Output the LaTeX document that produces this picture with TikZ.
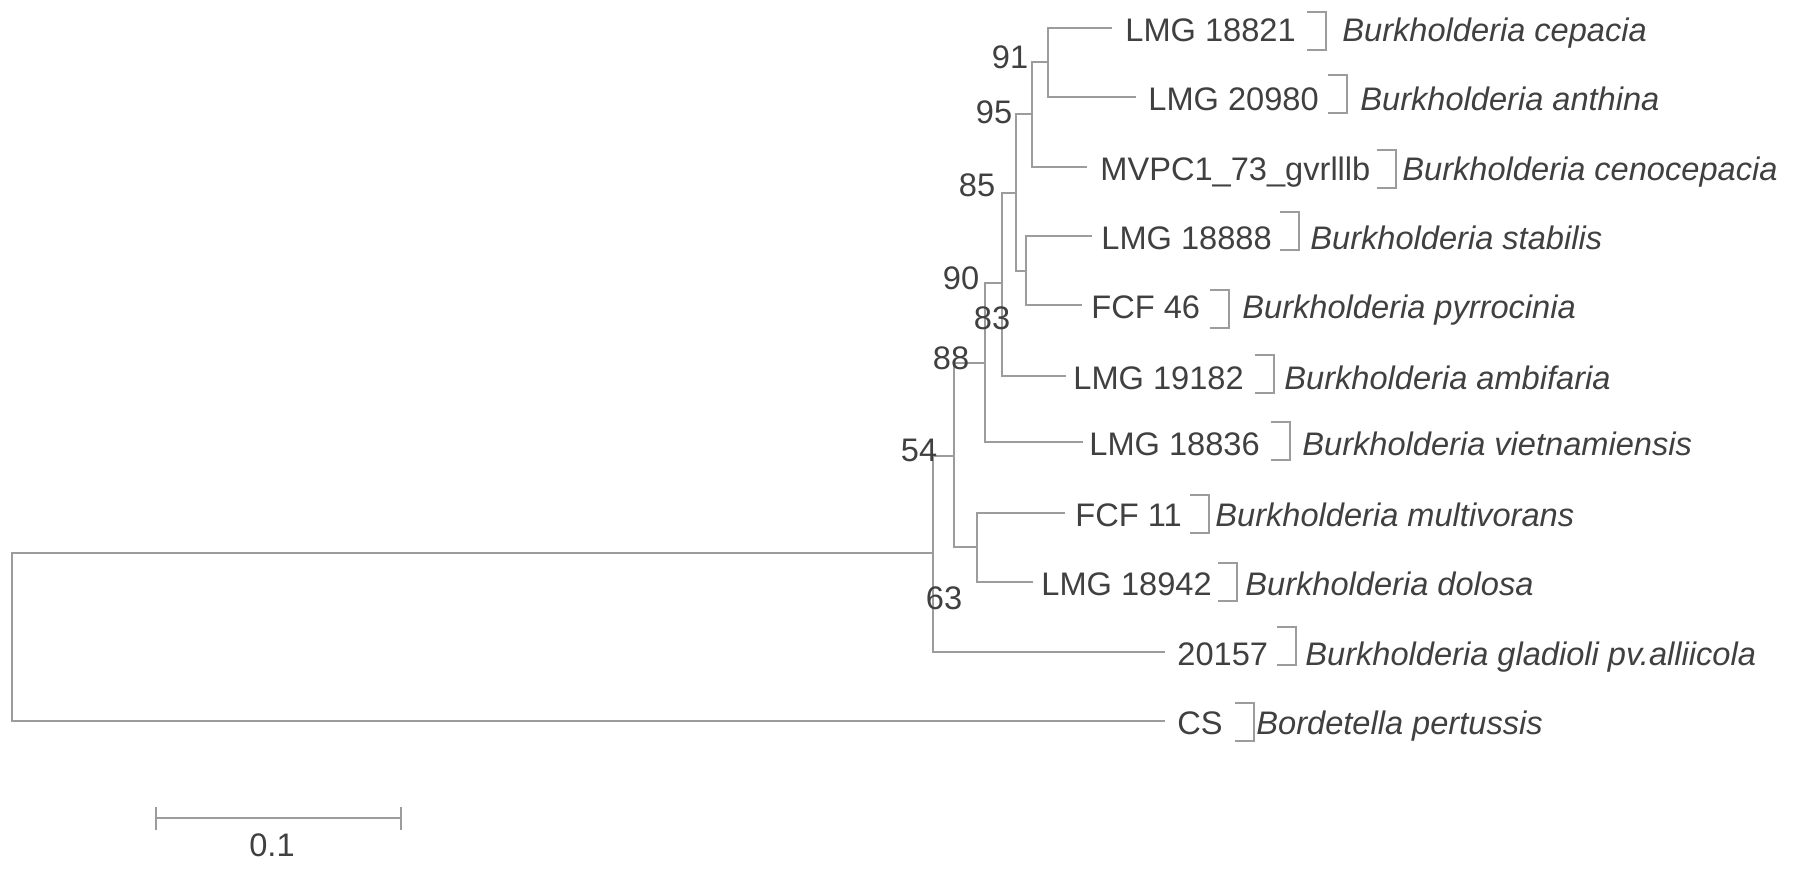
\documentclass[tikz,border=0pt]{standalone}
\usepackage{fontspec}
\setmainfont{Liberation Sans}
\definecolor{txt}{HTML}{404040}
\definecolor{ln}{HTML}{9C9C9C}
\begin{document}
\begin{tikzpicture}[x=0.5pt,y=-0.5pt,
  edge/.style={draw=ln,line width=1pt},
  strain/.style={anchor=base west,inner sep=0pt,text=txt,font=\fontsize{16.3}{19}\selectfont},
  species/.style={anchor=base west,inner sep=0pt,text=txt,font=\fontsize{16.3}{19}\selectfont\itshape},
  boot/.style={anchor=center,inner sep=0pt,text=txt,font=\fontsize{16.3}{19}\selectfont},
  brkt/.pic={\draw[draw=ln,line width=0.8pt] (0,0) -- (19,0) -- (19,38) -- (0,38);}]
\useasboundingbox (0,0) rectangle (1795,870);
\fill[white] (0,0) rectangle (1795,870);

% internal nodes
\coordinate (root) at (12,637);
\coordinate (n54) at (933,553);
\coordinate (n88) at (954,456);
\coordinate (n90) at (985,363);
\coordinate (n83) at (1002,283);
\coordinate (n85) at (1016,193);
\coordinate (n95) at (1032,114);
\coordinate (n91) at (1048,62);
\coordinate (nSP) at (1026,271);
\coordinate (nFD) at (977,547);
% tips
\coordinate (t1) at (1112,28);
\coordinate (t2) at (1136,97);
\coordinate (t3) at (1087,167);
\coordinate (t4) at (1092,236);
\coordinate (t5) at (1082,305);
\coordinate (t6) at (1066,376);
\coordinate (t7) at (1083,442);
\coordinate (t8) at (1065,513);
\coordinate (t9) at (1033,582);
\coordinate (t10) at (1165,652);
\coordinate (t11) at (1165,721);

% branches
\draw[edge] (root) |- (n54);
\draw[edge] (root) |- (t11);
\draw[edge] (n54) |- (n88);
\draw[edge] (n54) |- (t10);
\draw[edge] (n88) |- (n90);
\draw[edge] (n88) |- (nFD);
\draw[edge] (n90) |- (n83);
\draw[edge] (n90) |- (t7);
\draw[edge] (n83) |- (n85);
\draw[edge] (n83) |- (t6);
\draw[edge] (n85) |- (n95);
\draw[edge] (n85) |- (nSP);
\draw[edge] (n95) |- (n91);
\draw[edge] (n95) |- (t3);
\draw[edge] (n91) |- (t1);
\draw[edge] (n91) |- (t2);
\draw[edge] (nSP) |- (t4);
\draw[edge] (nSP) |- (t5);
\draw[edge] (nFD) |- (t8);
\draw[edge] (nFD) |- (t9);

% strain labels
\node[strain] (s1) at (1125,41.5) {LMG 18821};
\node[strain] (s2) at (1148,110.5) {LMG 20980};
\node[strain] (s3) at (1100,180.5) {MVPC1\_73\_gvrlllb};
\node[strain] (s4) at (1101,249.5) {LMG 18888};
\node[strain] (s5) at (1091,318.5) {FCF 46};
\node[strain] (s6) at (1073,389.5) {LMG 19182};
\node[strain] (s7) at (1089,455.5) {LMG 18836};
\node[strain] (s8) at (1075,526.5) {FCF 11};
\node[strain] (s9) at (1041,595.5) {LMG 18942};
\node[strain] (s10) at (1177,665.5) {20157};
\node[strain] (s11) at (1177,734.5) {CS};

% brackets
\pic at (1307,12) {brkt};
\pic at (1328,75) {brkt};
\pic at (1377,150) {brkt};
\pic at (1280,212) {brkt};
\pic at (1210,290) {brkt};
\pic at (1255,355) {brkt};
\pic at (1271,422) {brkt};
\pic at (1190,495) {brkt};
\pic at (1218,563) {brkt};
\pic at (1277,627) {brkt};
\pic at (1235,703) {brkt};

% species labels
\node[species] (sp1) at (1342,41.5) {Burkholderia cepacia};
\node[species] (sp2) at (1360,110.5) {Burkholderia anthina};
\node[species] (sp3) at (1402,180.5) {Burkholderia cenocepacia};
\node[species] (sp4) at (1310,249.5) {Burkholderia stabilis};
\node[species] (sp5) at (1242,318.5) {Burkholderia pyrrocinia};
\node[species] (sp6) at (1284,389.5) {Burkholderia ambifaria};
\node[species] (sp7) at (1302,455.5) {Burkholderia vietnamiensis};
\node[species] (sp8) at (1215,526.5) {Burkholderia multivorans};
\node[species] (sp9) at (1245,595.5) {Burkholderia dolosa};
\node[species] (sp10) at (1305,665.5) {Burkholderia gladioli pv.alliicola};
\node[species] (sp11) at (1256,734.5) {Bordetella pertussis};

% bootstrap values
\node[boot] (b91) at (1010,57) {91};
\node[boot] (b95) at (994,112) {95};
\node[boot] (b85) at (977,185) {85};
\node[boot] (b90) at (961,278) {90};
\node[boot] (b83) at (992,318) {83};
\node[boot] (b88) at (951,358) {88};
\node[boot] (b54) at (919,450) {54};
\node[boot] (b63) at (944,598) {63};

% scale bar
\coordinate (sbl) at (156,818);
\coordinate (sbr) at (401,818);
\draw[edge] (sbl) -- (sbr);
\draw[edge] ([yshift=5.5pt]sbl) -- ([yshift=-6pt]sbl);
\draw[edge] ([yshift=5.5pt]sbr) -- ([yshift=-6pt]sbr);
\node[boot] (sbt) at (272,845) {0.1};
\end{tikzpicture}
\end{document}
